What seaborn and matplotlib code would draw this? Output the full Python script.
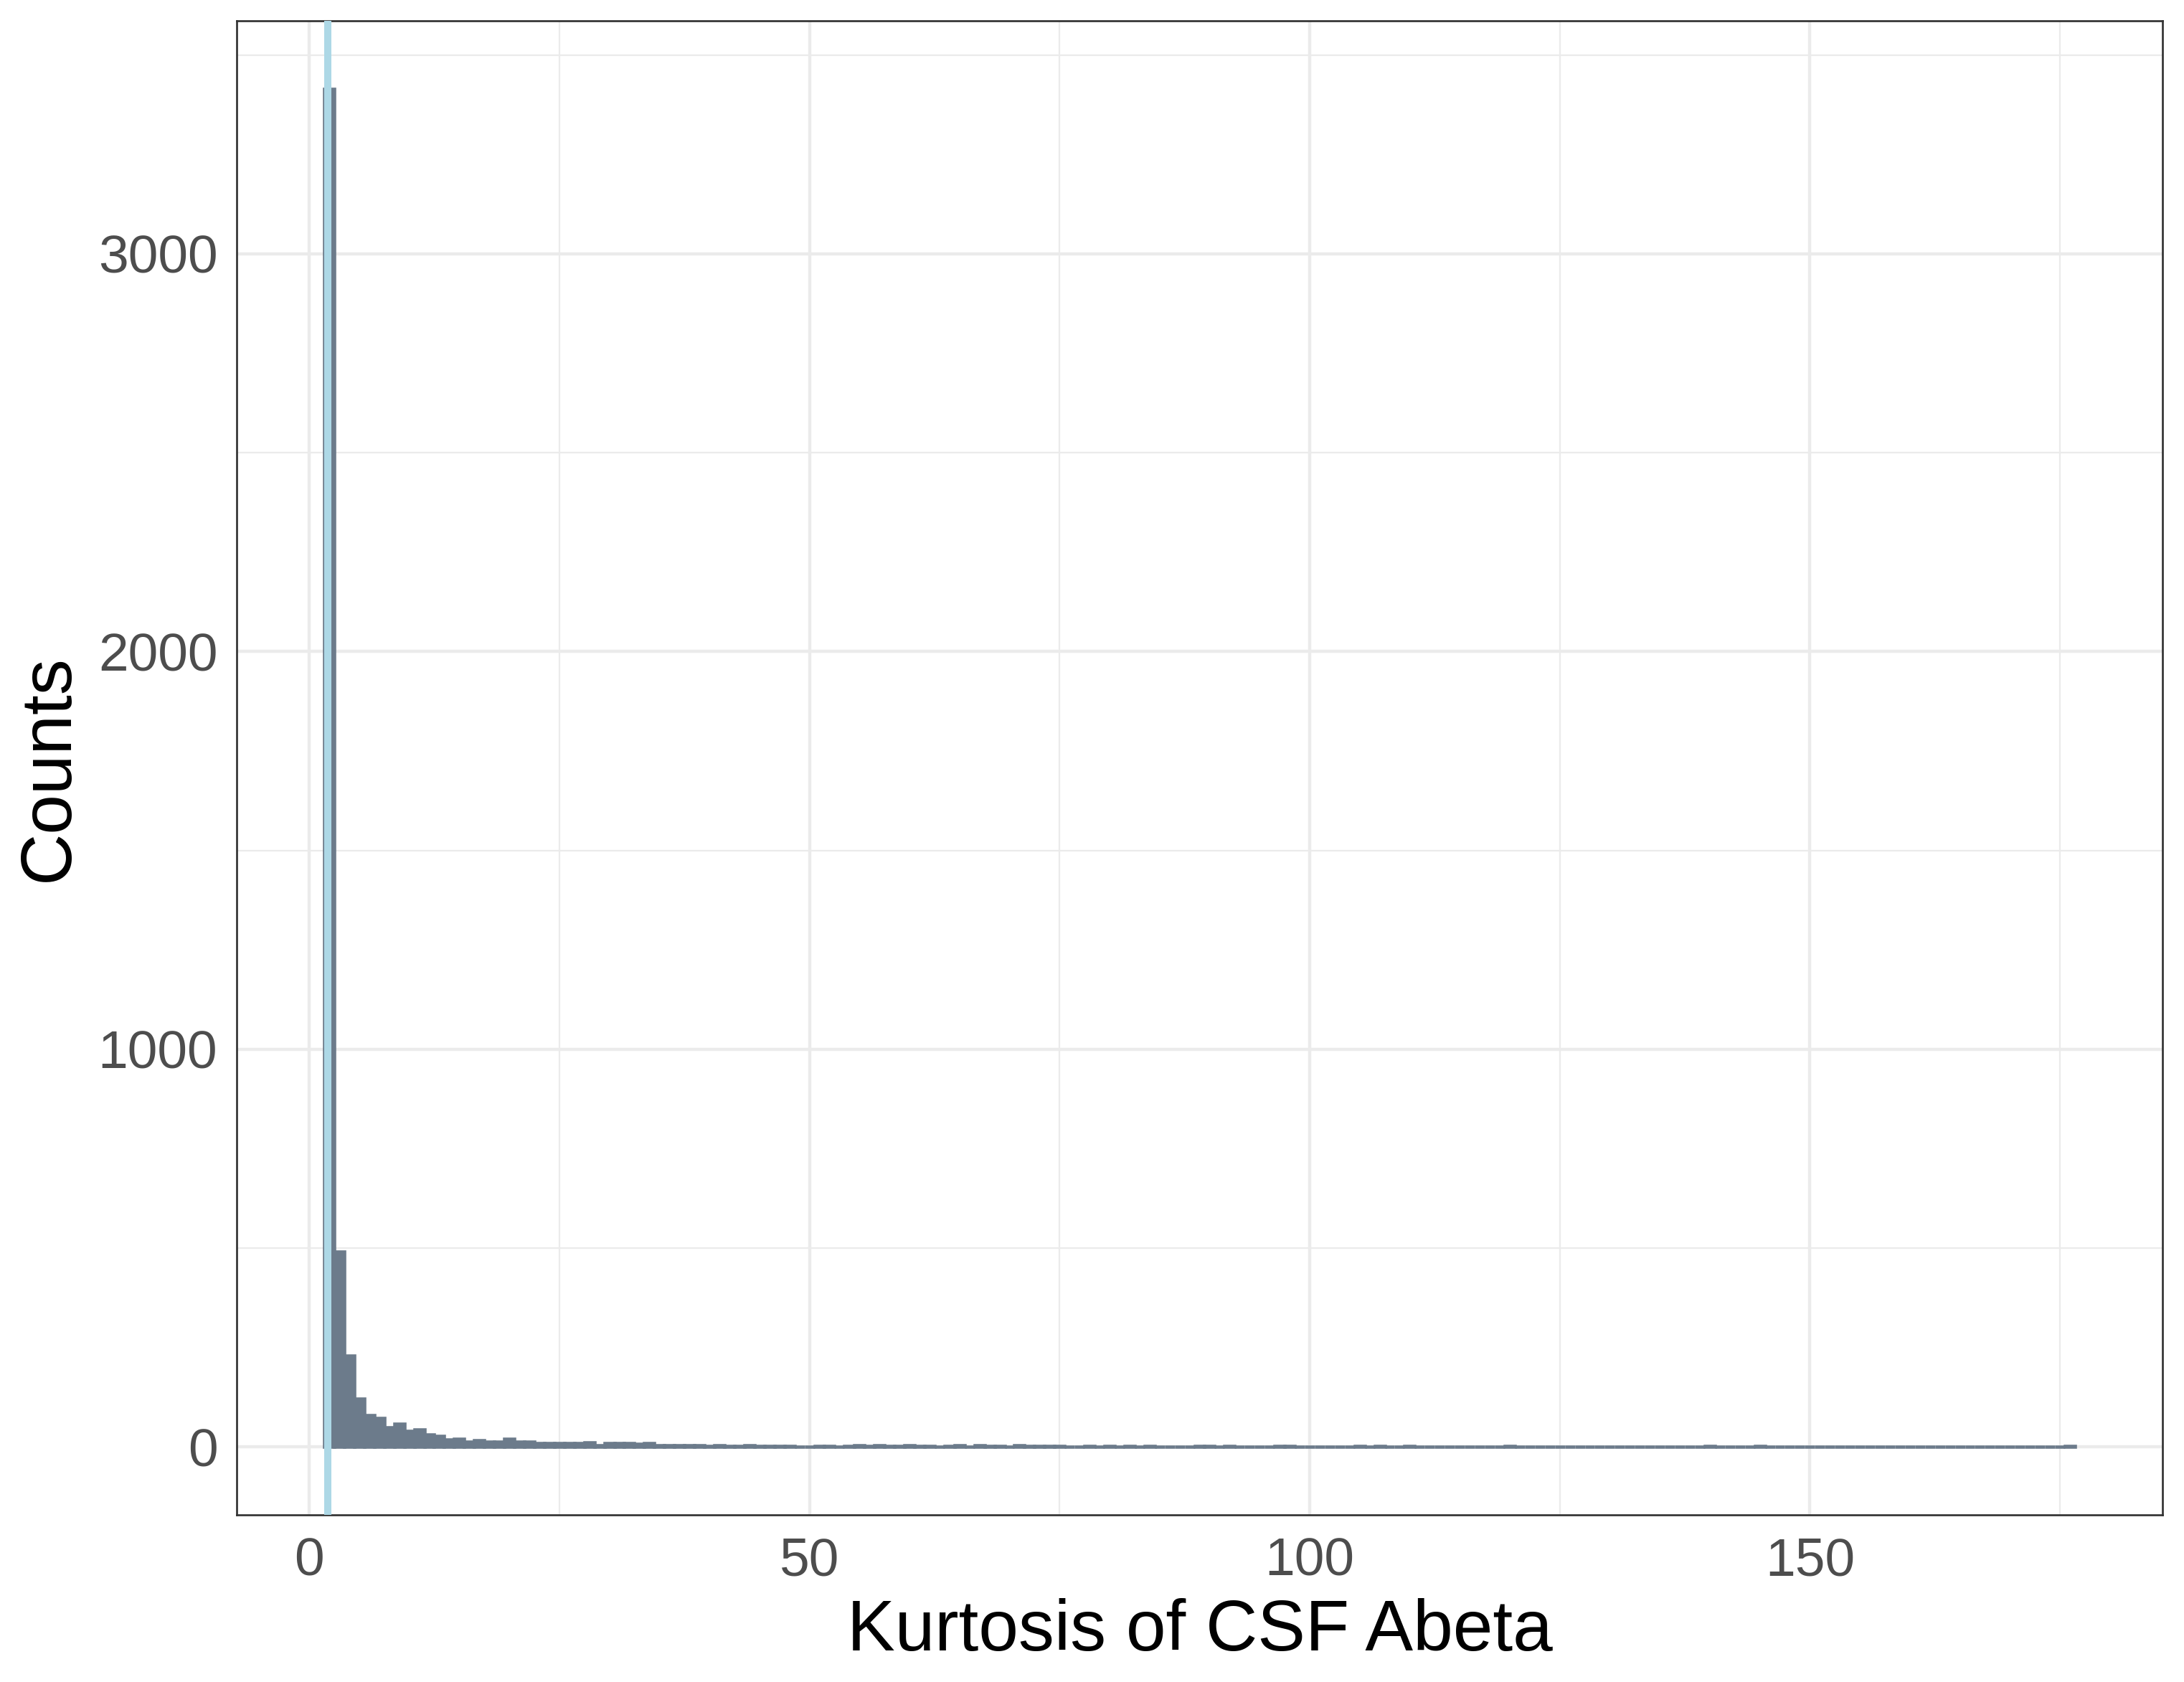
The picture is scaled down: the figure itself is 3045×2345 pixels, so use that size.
import numpy as np
import pandas as pd
import seaborn as sns
import matplotlib.pyplot as plt
from matplotlib.ticker import MultipleLocator

# Histogram counts, one bin per integer kurtosis value (2..176)
kurtosis_bins = np.arange(2, 177)
counts = [
    3415, 491, 229, 121, 80, 72, 49, 58, 40, 43,   # 2-11
    32, 27, 18, 20, 13, 16, 14, 14, 20, 14,        # 12-21
    14, 9, 9, 9, 9, 9, 11, 4, 9, 9,                # 22-31
    9, 7, 9, 5, 4, 4, 5, 4, 2, 4,                  # 32-41
    2, 2, 4, 2, 2, 2, 2, 0, 0, 2,                  # 42-51
    2, 0, 2, 4, 2, 4, 2, 2, 4, 2,                  # 52-61
    2, 0, 2, 4, 0, 4, 2, 2, 0, 4,                  # 62-71
    2, 2, 2, 2, 0, 0, 2, 0, 2, 0,                  # 72-81
    2, 0, 2, 0, 0, 0, 0, 2, 2, 0,                  # 82-91
    2, 0, 0, 0, 0, 2, 2, 0, 0, 0,                  # 92-101
    0, 0, 0, 2, 0, 2, 0, 0, 2, 0,                  # 102-111
    0, 0, 0, 0, 0, 0, 0, 0, 2, 0,                  # 112-121
    0, 0, 0, 0, 0, 0, 0, 0, 0, 0,                  # 122-131
    0, 0, 0, 0, 0, 0, 0, 0, 2, 0,                  # 132-141
    0, 0, 0, 2, 0, 0, 0, 0, 0, 0,                  # 142-151
    0, 0, 0, 0, 0, 0, 0, 0, 0, 0,                  # 152-161
    0, 0, 0, 0, 0, 0, 0, 0, 0, 0,                  # 162-171
    0, 0, 0, 0, 2,                                 # 172-176
]
mean_kurtosis = 1.84

x_label = "Kurtosis of CSF Abeta"
y_label = "Counts"

df = pd.DataFrame({"kurtosis": kurtosis_bins, "count": counts})

bar_color = "#6C7B8B"
line_color = "#ADD8E6"
grid_color = "#EBEBEB"
frame_color = "#333333"

sns.set_style("white")
plt.rcParams["font.family"] = ["Liberation Sans", "DejaVu Sans"]

W, H = 3045, 2345
fig = plt.figure(figsize=(W / 300, H / 300), dpi=300)
ax = fig.add_axes([330 / W, 1 - 2112 / H, (3015 - 330) / W, (2112 - 29) / H])

sns.histplot(
    data=df,
    x="kurtosis",
    weights="count",
    binwidth=1,
    binrange=(1.5, 176.5),
    color=bar_color,
    edgecolor=bar_color,
    linewidth=1.1,
    alpha=1,
    ax=ax,
)
ax.axvline(mean_kurtosis, color=line_color, linewidth=2.4, zorder=5)

# ggplot-like limits (5% expansion)
ax.set_xlim(1.5 - 0.05 * 175, 176.5 + 0.05 * 175)
top = max(counts)
ax.set_ylim(-0.05 * top, 1.05 * top)

# theme_bw style grid and frame
ax.xaxis.set_major_locator(MultipleLocator(50))
ax.xaxis.set_minor_locator(MultipleLocator(25))
ax.yaxis.set_major_locator(MultipleLocator(1000))
ax.yaxis.set_minor_locator(MultipleLocator(500))
ax.set_axisbelow(True)
ax.grid(which="major", color=grid_color, linewidth=1.07)
ax.grid(which="minor", color=grid_color, linewidth=0.55)
for s in ax.spines.values():
    s.set_color(frame_color)
    s.set_linewidth(0.65)

ax.tick_params(which="major", length=2.9, width=1.07, color=frame_color,
               labelcolor="#4D4D4D", labelsize=18)
ax.tick_params(axis="x", which="major", pad=4.5)
ax.tick_params(axis="y", which="major", pad=3.5)
ax.tick_params(which="minor", length=0)

ax.set_xlabel(x_label, fontsize=24, color="black", labelpad=4)
ax.set_ylabel(y_label, fontsize=24, color="black", labelpad=5)

fig.savefig("out.png", dpi=300)
